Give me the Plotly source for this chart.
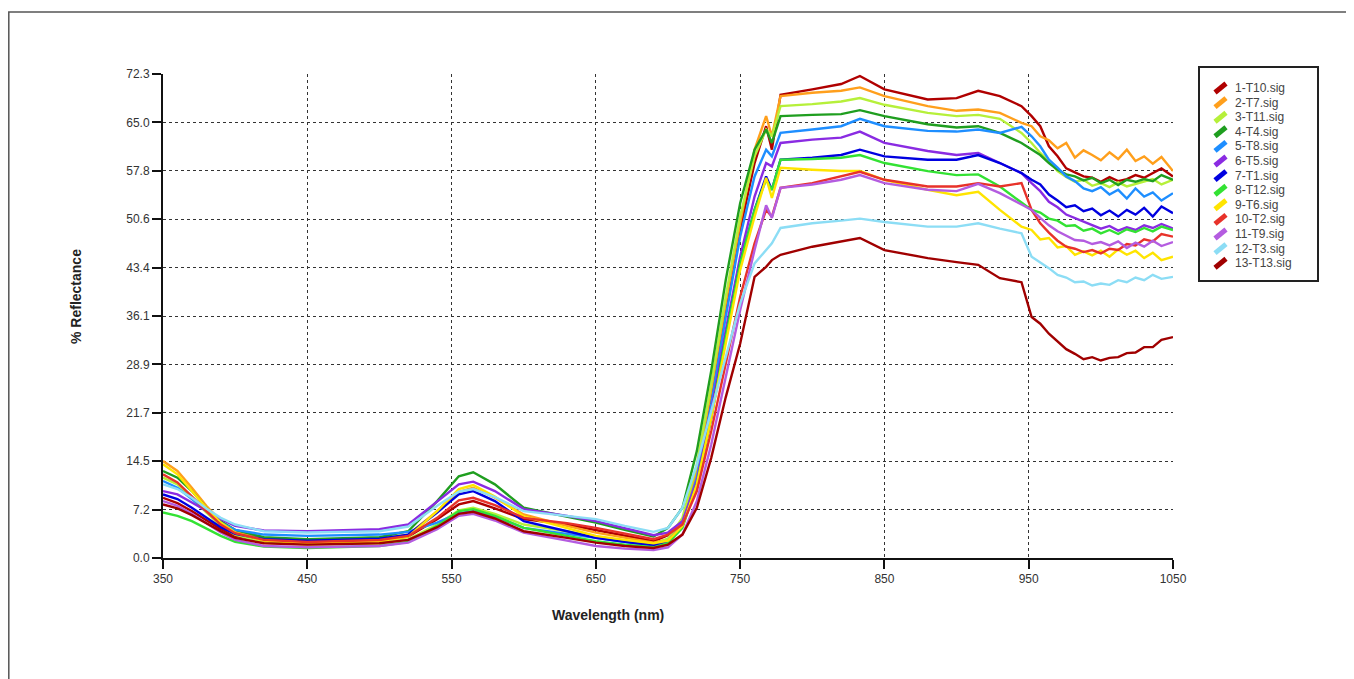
import plotly.graph_objects as go

# ---------------- data ----------------
wavelength = [350, 360, 370, 380, 390, 400, 420, 450, 500, 520, 540, 555, 565, 580, 600, 630, 650, 670, 690,
              700, 710, 720, 730, 740, 750, 760, 768, 772, 778,
              800, 820, 833, 850, 880, 900, 915, 930, 945,
              952, 958, 964, 970, 976, 982, 988, 994, 1000, 1006, 1012, 1018, 1024, 1030, 1036, 1042, 1050]

series_names = ["1-T10.sig", "2-T7.sig", "3-T11.sig", "4-T4.sig", "5-T8.sig", "6-T5.sig", "7-T1.sig",
                "8-T12.sig", "9-T6.sig", "10-T2.sig", "11-T9.sig", "12-T3.sig", "13-T13.sig"]

series_colors = ["#B00000", "#FF9F1C", "#B6F03A", "#1F9E1F", "#1E8EFF", "#8A2BE2", "#0000E0",
                 "#33E233", "#FFE400", "#E8322A", "#B45CE0", "#8CDDF5", "#A00000"]

r_t10 = [9.0, 8.2, 7.0, 5.6, 4.3, 3.3, 2.5, 2.3, 2.6, 3.2, 5.8, 8.0, 8.5, 7.4, 5.8, 5.0, 4.2, 3.3, 2.5,
         3.4, 5.5, 12, 24, 37, 49, 59, 64.5, 61, 69.2,
         70.0, 70.8, 72.0, 70.0, 68.5, 68.7, 69.8, 69.0, 67.5,
         66.0, 64.5, 61.5, 60.0, 58.2, 57.6, 57.0, 56.8, 56.2, 56.9, 56.3, 56.6, 57.2, 56.8, 57.5, 58.2, 57.0]
r_t7 = [14.5, 13.0, 10.5, 7.8, 5.5, 4.0, 2.9, 2.5, 2.8, 3.5, 7.0, 9.9, 10.5, 9.0, 6.5, 4.8, 3.8, 3.0, 2.3,
        2.8, 5.5, 13, 25, 38, 50, 61, 66, 63, 69,
        69.5, 69.8, 70.3, 69.0, 67.5, 66.8, 67.0, 66.5, 65.0,
        64.5, 63.0, 62.4, 61.2, 62.0, 59.8, 60.9, 60.2, 59.4, 60.6, 59.6, 61.0, 59.3, 60.0, 58.9, 59.9, 57.8]
r_t11 = [12.0, 11.0, 9.0, 6.8, 4.8, 3.5, 2.3, 2.0, 2.2, 2.8, 5.0, 7.1, 7.5, 6.6, 5.0, 4.0, 3.2, 2.6, 2.0,
         2.9, 6, 14, 26, 39, 51, 60, 64, 63, 67.5,
         67.8, 68.2, 68.7, 67.7, 66.5, 66.0, 66.2, 65.6, 63.5,
         62.0, 60.5, 59.3, 57.8, 56.9, 56.2, 56.5, 55.6, 56.0, 55.4, 56.1, 55.5, 55.9, 56.2, 56.6, 55.8, 56.5]
r_t4 = [13.0, 12.0, 10.0, 7.5, 5.5, 4.2, 3.1, 2.8, 3.1, 4.0, 8.5, 12.2, 12.8, 11.0, 7.5, 6.2, 5.3, 4.2, 3.2,
        4.5, 7.5, 16, 28, 41.5, 53, 61, 64, 62, 66,
        66.2, 66.3, 66.9, 66.0, 64.8, 64.3, 64.5, 63.5, 62.0,
        61.0, 60.2, 59.0, 58.0, 57.3, 57.0, 56.4, 56.8, 56.0, 56.5, 55.7, 56.5, 56.2, 56.6, 56.3, 57.2, 56.5]
r_t8 = [11.5, 10.5, 8.8, 7.0, 5.3, 4.2, 3.5, 3.3, 3.5, 3.9, 5.3, 6.7, 7.0, 6.2, 4.5, 3.6, 3.0, 2.4, 1.8,
        2.5, 5, 12, 23, 36, 48, 57, 61, 60, 63.5,
        64.0, 64.5, 65.6, 64.5, 63.8, 63.7, 64.0, 63.5, 64.4,
        63.0, 61.5, 59.5, 58.3, 57.0, 56.3, 55.2, 54.8, 55.4, 54.3, 55.0, 53.7, 55.2, 54.0, 54.6, 53.4, 54.5]
r_t5 = [10.0, 9.5, 8.3, 7.0, 5.8, 4.8, 4.1, 4.0, 4.3, 5.0, 8.5, 11.0, 11.4, 10.0, 7.3, 6.3, 5.5, 4.4, 3.4,
        3.8, 5.5, 11.5, 22, 34, 45, 54, 59, 58.5, 62,
        62.5, 62.8, 63.7, 62.0, 60.8, 60.2, 60.5, 59.0, 57.5,
        56.0, 54.8, 53.2, 52.4, 51.3, 50.8, 50.2, 49.8, 49.2, 49.6, 48.9, 49.4, 49.0, 49.7, 49.3, 49.9, 49.2]
r_t1 = [9.5, 8.8, 7.5, 6.0, 4.6, 3.6, 2.8, 2.6, 2.9, 3.5, 6.8, 9.5, 10.0, 8.5, 5.5, 4.0, 3.0, 2.4, 1.9,
        2.5, 4.8, 11, 21, 33, 44, 52, 57, 55, 59.5,
        59.8, 60.2, 61.0, 60.0, 59.5, 59.5, 60.2, 59.0, 57.5,
        56.5, 55.8, 54.3, 53.4, 52.4, 52.7, 51.8, 52.2, 51.2, 51.9, 51.0, 52.0, 51.3, 52.3, 51.0, 52.5, 51.5]
r_t12 = [6.8, 6.3, 5.5, 4.4, 3.3, 2.4, 1.7, 1.5, 1.8, 2.4, 4.8, 7.0, 7.3, 6.3, 4.5, 3.3, 2.5, 2.0, 1.6,
         2.2, 4.5, 11, 21, 33, 44, 52, 56.5, 55, 59.5,
         59.6, 59.8, 60.2, 59.0, 57.8, 57.2, 57.3, 55.5, 53.1,
         52.0, 51.6, 50.7, 50.4, 49.6, 49.7, 48.9, 49.2, 48.5, 49.0, 48.4, 49.1, 48.7, 49.3, 48.8, 49.5, 49.0]
r_t6 = [14.0, 12.5, 10.0, 7.5, 5.3, 3.8, 2.6, 2.2, 2.5, 3.2, 7.0, 10.3, 10.9, 9.2, 6.2, 4.5, 3.3, 2.7, 2.2,
        2.6, 4.8, 11, 21, 32, 43, 51, 56.8, 53.8, 58.3,
        58.0, 57.8, 57.8, 56.5, 55.0, 54.2, 54.7, 52.0, 49.5,
        49.0, 47.6, 47.8, 46.4, 46.6, 45.3, 45.8, 45.2, 45.9, 45.0, 46.1, 45.3, 45.9, 44.8, 45.6, 44.5, 45.0]
r_t2 = [12.5, 11.3, 9.2, 7.0, 5.0, 3.7, 2.7, 2.4, 2.7, 3.3, 6.0, 8.6, 9.0, 7.9, 6.0, 5.2, 4.5, 3.6, 2.8,
        3.5, 5, 10, 19, 29, 39, 47, 52, 51, 55.3,
        56.0, 57.0, 57.7, 56.5, 55.5, 55.5, 56.0, 55.5, 56.0,
        52.0, 50.0, 48.6, 47.4, 46.5, 46.2, 45.7, 46.0, 45.5, 46.2, 46.0, 46.9, 46.7, 47.6, 47.3, 48.4, 48.0]
r_t9 = [8.5, 7.8, 6.6, 5.2, 3.8, 2.7, 1.8, 1.6, 1.8, 2.3, 4.3, 6.3, 6.6, 5.6, 3.8, 2.6, 1.8, 1.4, 1.2,
        1.6, 3.5, 8.5, 17, 27, 37, 46, 52.7, 50.8, 55.3,
        55.8, 56.5, 57.2, 56.0, 55.0, 54.8, 55.9, 54.5, 52.8,
        52.0, 50.8, 49.7, 48.8, 48.1, 47.5, 47.4, 46.9, 47.2, 46.7, 47.3, 46.3, 47.1, 46.5, 47.4, 46.6, 47.2]
r_t3 = [11.0, 10.3, 9.0, 7.4, 6.0, 5.0, 4.0, 3.8, 4.0, 4.7, 7.8, 9.9, 10.3, 9.1, 7.0, 6.3, 5.8, 4.8, 3.9,
        4.5, 7.5, 14, 22, 30, 38, 44, 46, 47, 49.3,
        50.0, 50.4, 50.7, 50.2, 49.5, 49.5, 50.0, 49.2, 48.5,
        45.0, 44.2, 43.3, 42.3, 41.9, 41.2, 41.3, 40.7, 41.0, 40.8, 41.5, 41.2, 41.9, 41.5, 42.3, 41.7, 42.0]
r_t13 = [8.0, 7.4, 6.4, 5.2, 4.0, 3.0, 2.2, 2.0, 2.2, 2.7, 4.6, 6.6, 6.9, 5.9, 4.0, 3.0, 2.3, 1.8, 1.5,
         2.0, 3.5, 7.5, 15, 24, 32, 42, 43.5, 44.5, 45.3,
         46.5, 47.3, 47.8, 46.0, 44.8, 44.2, 43.8, 41.8, 41.2,
         36.0, 35.0, 33.5, 32.4, 31.2, 30.5, 29.7, 30.0, 29.5, 29.9, 30.0, 30.6, 30.7, 31.5, 31.5, 32.6, 33.0]

series_values = [r_t10, r_t7, r_t11, r_t4, r_t8, r_t5, r_t1, r_t12, r_t6, r_t2, r_t9, r_t3, r_t13]

x_ticks = [350, 450, 550, 650, 750, 850, 950, 1050]
y_ticks = [0.0, 7.23, 14.46, 21.69, 28.92, 36.15, 43.38, 50.61, 57.84, 65.07, 72.3]
y_tick_text = ["0.0", "7.2", "14.5", "21.7", "28.9", "36.1", "43.4", "50.6", "57.8", "65.0", "72.3"]

# ---------------- layout geometry (page pixels; page body has an 8px margin) ----------------
OFF = 8
W, H = 1344, 671
PL, PR, PT, PB = 163, 1173, 74, 558   # plot area in page pixels


def px_x(p):
    return (p - PL) / (PR - PL)


def px_y(p):
    return (PB - p) / (PB - PT)


fig = go.Figure()
for name, color, vals in zip(series_names, series_colors, series_values):
    fig.add_trace(go.Scatter(x=wavelength, y=vals, mode="lines", name=name,
                             line=dict(color=color, width=2.4), showlegend=False))

font_main = "Liberation Sans, Arial, sans-serif"
axis_common = dict(showline=True, linecolor="#111", linewidth=2, ticks="outside", ticklen=9,
                   tickwidth=2, tickcolor="#111", showgrid=True, gridcolor="#333", griddash="dot",
                   gridwidth=1.3, zeroline=False, mirror=False)

fig.update_layout(
    width=W, height=H, autosize=False,
    margin=dict(l=PL - OFF, r=W - (PR - OFF), t=PT - OFF, b=H - (PB - OFF)),
    plot_bgcolor="white", paper_bgcolor="white",
    font=dict(family=font_main, size=12, color="#333"),
    xaxis=dict(range=[350, 1050], tickvals=x_ticks,
               tickfont=dict(family="Liberation Sans Narrow, Arial Narrow, Liberation Sans, sans-serif",
                             size=12, color="#333"), **axis_common),
    yaxis=dict(range=[0, 72.3], tickvals=y_ticks, ticktext=y_tick_text,
               tickfont=dict(family=font_main, size=12, color="#333"), **axis_common),
)

annotations = [
    dict(text="<b>% Reflectance</b>", x=px_x(76), y=px_y(297), xref="paper", yref="paper",
         xanchor="center", yanchor="middle",
         textangle=-90, showarrow=False, font=dict(size=14, color="#222", family=font_main)),
    dict(text="<b>Wavelength (nm)</b>", x=px_x(608), y=px_y(615), xref="paper", yref="paper",
         xanchor="center", yanchor="middle",
         showarrow=False, font=dict(size=14, color="#222", family=font_main)),
]

shapes = [
    # outer frame
    dict(type="rect", xref="paper", yref="paper", x0=px_x(8.8), x1=px_x(1349), y0=px_y(700), y1=px_y(12),
         line=dict(color="#555", width=1.5), fillcolor="rgba(0,0,0,0)", layer="below"),
    # legend box
    dict(type="rect", xref="paper", yref="paper", x0=px_x(1199), x1=px_x(1318), y0=px_y(281), y1=px_y(67),
         line=dict(color="#222", width=2), fillcolor="white"),
]

for i, (name, color) in enumerate(zip(series_names, series_colors)):
    yc = 88 + 14.6 * i
    shapes.append(dict(type="line", xref="paper", yref="paper",
                       x0=px_x(1215), y0=px_y(yc + 4.5), x1=px_x(1226), y1=px_y(yc - 4.5),
                       line=dict(color=color, width=5)))
    annotations.append(dict(text=name, x=px_x(1233), y=px_y(yc), xref="paper", yref="paper",
                            xanchor="left", yanchor="middle", showarrow=False,
                            font=dict(size=12, color="#444", family=font_main)))

fig.update_layout(shapes=shapes, annotations=annotations)
fig.write_html("out.html")
